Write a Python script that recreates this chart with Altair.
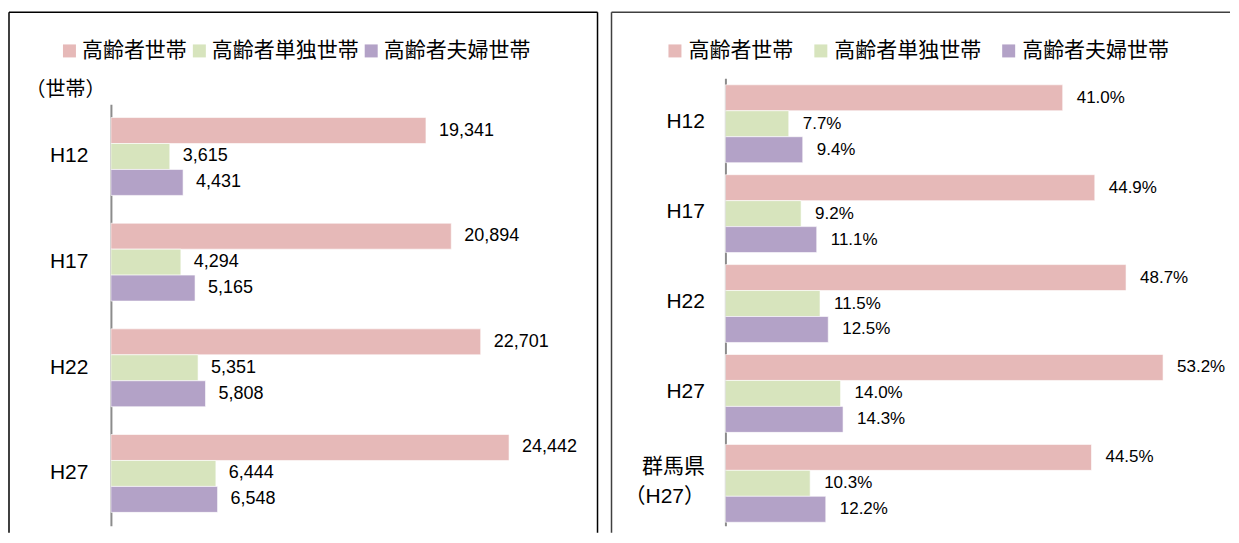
import altair as alt
import pandas as pd

# ---------------- data ----------------
series = ["高齢者世帯", "高齢者単独世帯", "高齢者夫婦世帯"]
colors = ["#E6B9B8", "#D7E4BD", "#B3A2C7"]

years_left = ["H12", "H17", "H22", "H27"]
elderly_households = [19341, 20894, 22701, 24442]
single_households = [3615, 4294, 5351, 6444]
couple_households = [4431, 5165, 5808, 6548]

cats_right = ["H12", "H17", "H22", "H27", "群馬県\n（H27）"]
elderly_pct = [41.0, 44.9, 48.7, 53.2, 44.5]
single_pct = [7.7, 9.2, 11.5, 14.0, 10.3]
couple_pct = [9.4, 11.1, 12.5, 14.3, 12.2]

left_unit = "（世帯）"


def to_long(cats, cols):
    rows = []
    for i, c in enumerate(cats):
        for s, vals in zip(series, cols):
            rows.append({"cat": c, "series": s, "value": vals[i]})
    return pd.DataFrame(rows)


left_df = to_long(years_left, [elderly_households, single_households, couple_households])
right_df = to_long(cats_right, [elderly_pct, single_pct, couple_pct])
one = pd.DataFrame({"k": [0]})

JP = "Noto Sans CJK JP"
NUM = "Liberation Sans, Noto Sans CJK JP"


def rule(x, x2, y, y2, color):
    return alt.Chart(one).mark_rule(color=color, strokeWidth=1.5).encode(
        x=alt.value(x), x2=alt.value(x2), y=alt.value(y), y2=alt.value(y2)
    )


def panel(df, cats, W, H, yrange, xmax, pin, pout, legx, legy, colpad, laboff, lpad,
          yaxis_title, text_fmt, num_size, dx, borders, label_offset):
    legend = alt.Legend(
        title=None, orient="none", legendX=legx, legendY=legy, direction="horizontal",
        symbolType="square", symbolSize=169, symbolStrokeWidth=0,
        labelFont=JP, labelFontSize=21, labelColor="#000000", labelOffset=laboff,
        columnPadding=colpad, padding=0, labelLimit=400,
    )
    axis_kwargs = dict(
        ticks=False, grid=False, domainColor="#8C8C8C", domainWidth=2,
        labelFont=NUM, labelFontSize=21, labelColor="#000000", labelPadding=lpad,
        labelExpr="split(datum.value, '\\n')", labelLineHeight=30,
        labelOffset=label_offset,
    )
    scale = alt.Scale(paddingInner=pin, paddingOuter=pout, range=yrange)
    if yaxis_title:
        axis = alt.Axis(
            titleAngle=0, titleX=-86, titleY=11, titleAlign="left", titleBaseline="middle",
            titleFont=JP, titleFontSize=20, titleFontWeight="normal", titleColor="#000000",
            **axis_kwargs,
        )
        y = alt.Y("cat:N", sort=cats, title=yaxis_title, scale=scale, axis=axis)
    else:
        y = alt.Y("cat:N", sort=cats, title=None, scale=scale, axis=alt.Axis(**axis_kwargs))
    x = alt.X("value:Q", scale=alt.Scale(domain=[0, xmax], nice=False), axis=None)
    yoff = alt.YOffset("series:N", sort=series, scale=alt.Scale(paddingInner=0, paddingOuter=0))
    color = alt.Color("series:N", sort=series, scale=alt.Scale(domain=series, range=colors), legend=legend)

    base = alt.Chart(df).transform_calculate(label=text_fmt)
    bars = base.mark_bar(stroke="#FFFFFF", strokeWidth=1, strokeOpacity=0.6).encode(
        x=x, y=y, yOffset=yoff, color=color
    )
    text = base.mark_text(align="left", baseline="middle", dx=dx, font=NUM,
                          fontSize=num_size, color="#000000").encode(
        x=x, y=y, yOffset=yoff, text="label:N"
    )
    layers = [bars, text] + [rule(*b) for b in borders]
    return alt.layer(*layers).properties(width=W, height=H)


H = 448

LW = 485
left = panel(
    left_df, years_left, LW, H, [26, 448], 29750, 0.263, 0.127, -52, -38, 2, 2, 23, left_unit,
    "format(datum.value, ',')", 18, 13,
    [(-102, -102, -66, 455, "#000000"), (-102, 487, -66, -66, "#000000"), (487, 487, -66, 455, "#000000")],
    0,
)

RW = 494
right = panel(
    right_df, cats_right, RW, H, [0, 448], 60, 0.1685, 0.074, -61, -38, 17, 3, 21, None,
    "format(datum.value, '.1f') + '%'", 17, 14,
    [(-114, -114, -66, 455, "#404040"), (-114, 505, -66, -66, "#404040")],
    {"condition": {"test": "indexof(datum.value, '群馬県') >= 0", "value": -15}, "value": 0},
)

chart = (
    alt.hconcat(left, right, spacing=12)
    .resolve_scale(color="independent", x="independent", y="independent")
    .resolve_legend(color="independent")
    .properties(padding={"left": 0, "top": 3, "right": 0, "bottom": 0})
    .configure_view(strokeWidth=0)
)

chart.save("out.html", embed_options={"renderer": "svg", "actions": False})
